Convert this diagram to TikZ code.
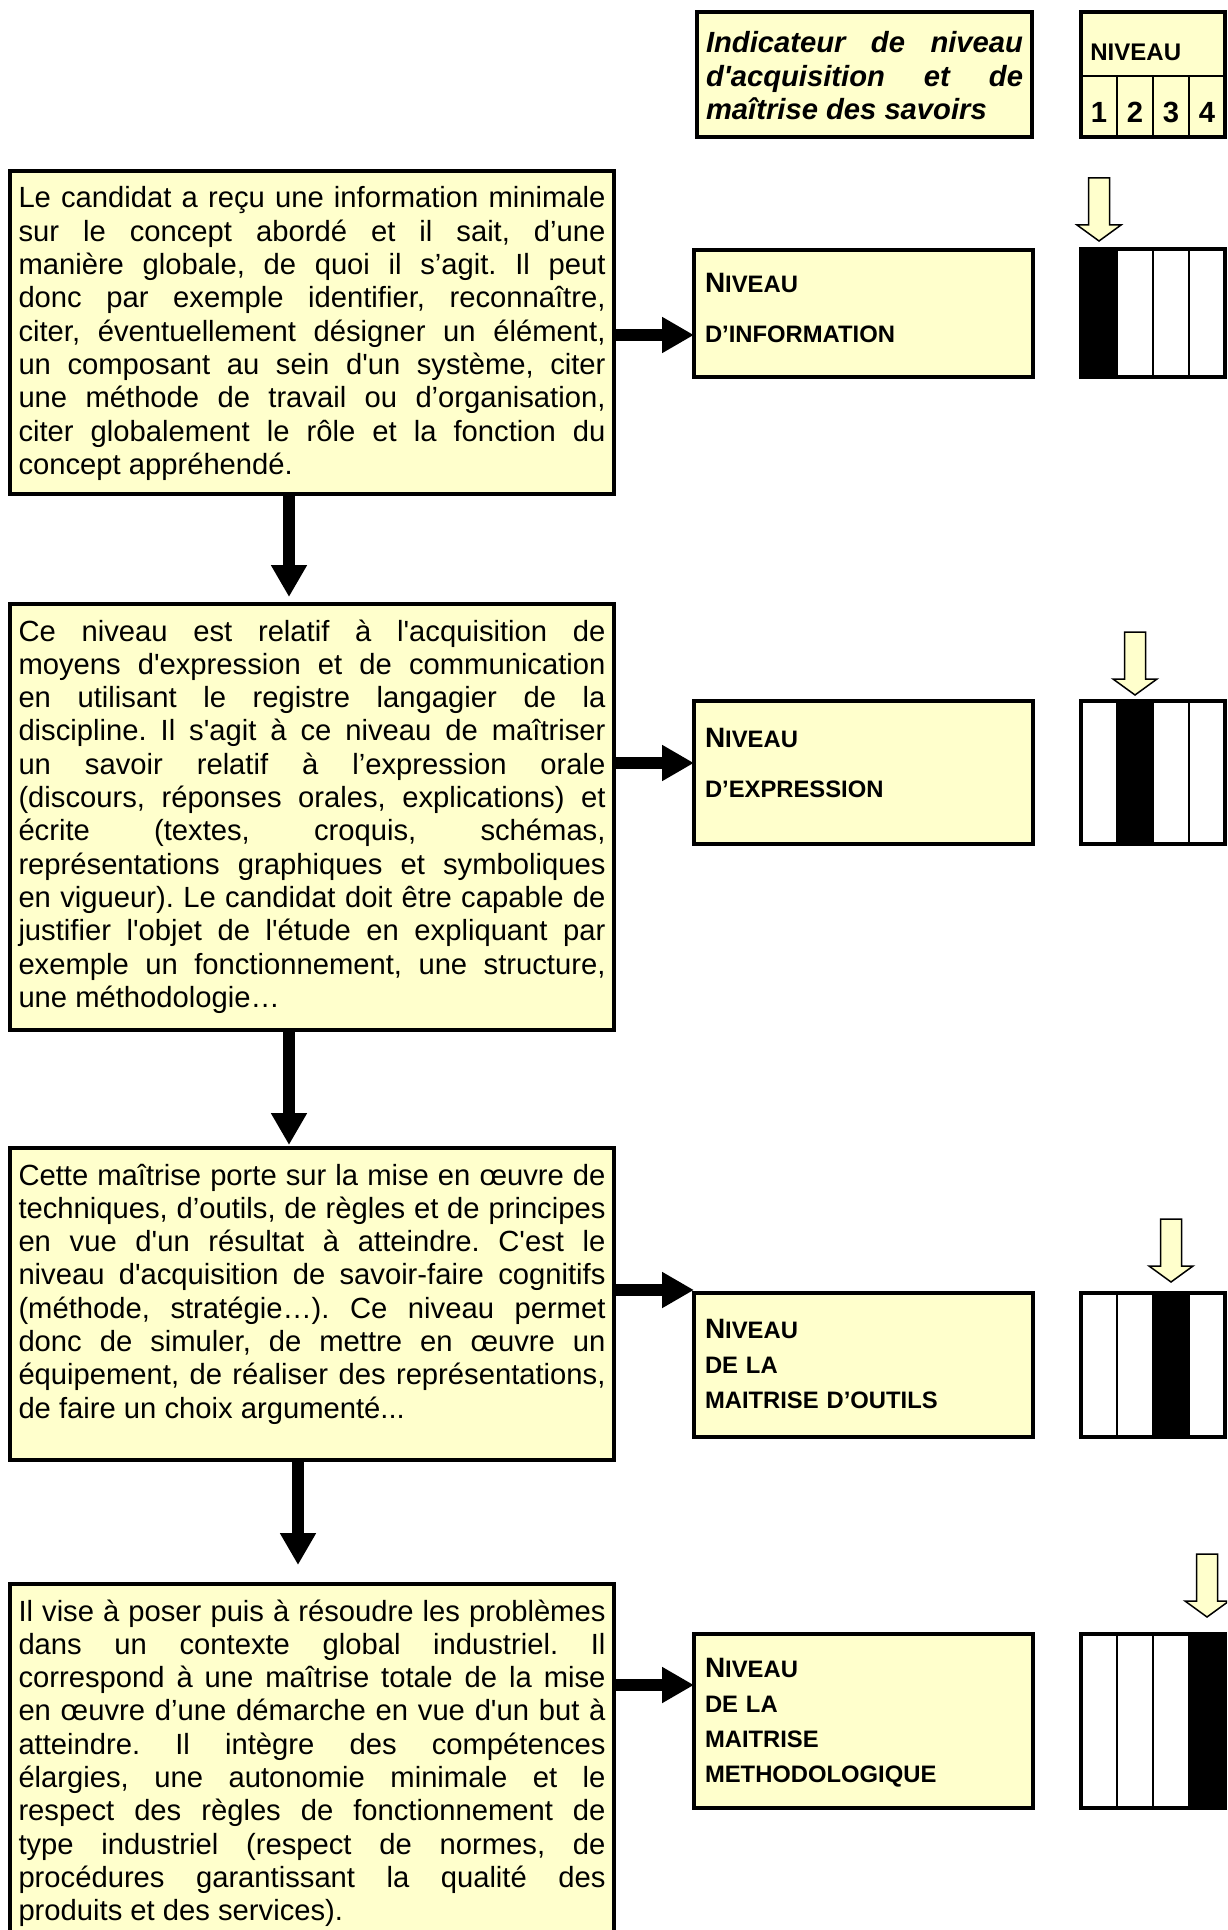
\documentclass[tikz,border=0pt]{standalone}
\usepackage{fontspec}
\setmainfont{Liberation Sans}[Ligatures=TeXOff]
\usetikzlibrary{arrows.meta}
\definecolor{paleyellow}{RGB}{255,255,204}
\tolerance=10000
\hyphenpenalty=10000
\exhyphenpenalty=10000
\frenchspacing

\newcommand{\padtop}[1]{\rule{0pt}{#1}}
\newcommand{\padbot}[1]{\rule[-#1]{0pt}{#1}}
\newcommand{\niv}{{\fontsize{14pt}{17.5pt}\selectfont N}IVEAU}
\newcommand{\levelbar}[3]{%
    \fill[white] (1081,#1) rectangle (1225,#2);
    \fill ({1045+36*#3},#1) rectangle ({1081+36*#3},#2);
    \foreach \xc in {1117,1153,1189}
        \draw[line width=1pt] (\xc,#1) -- (\xc,#2);
    \draw[line width=2pt] (1081,#1) rectangle (1225,#2);
}

\tikzset{
    descbox/.style={draw, line width=2pt, fill=paleyellow, anchor=north west,
        outer sep=0pt, inner xsep=4.25pt, inner ysep=0pt, text width=293.5pt,
        align=justify, font=\fontsize{14.6pt}{16.65pt}\selectfont},
    lvlbox/.style={draw, line width=2pt, fill=paleyellow, anchor=north west,
        outer sep=0pt, inner xsep=5.5pt, inner ysep=0pt, text width=158.5pt,
        align=left, font=\bfseries\fontsize{11.9pt}{17.5pt}\selectfont},
    flow/.style={line width=6pt, -{Triangle[width=17pt,length=16pt]}},
    pointer/.pic={\draw[fill=paleyellow, line width=0.75pt]
        (0,0) -- (-22,-16) -- (-10.5,-16) -- (-10.5,-63) -- (10.5,-63)
        -- (10.5,-16) -- (22,-16) -- cycle;}
}

\begin{document}
\begin{tikzpicture}[x=0.5pt, y=-0.5pt]
    \useasboundingbox (0,0) rectangle (1227,1930);
    \clip (0,0) rectangle (1227,1930);

    \node[descbox, inner xsep=4.5pt, text width=158.5pt, font=\bfseries\itshape\fontsize{14.6pt}{16.65pt}\selectfont] (ind) at (697,12.5)
        {\padtop{20.25pt}Indicateur de niveau\linebreak
        d'acquisition et de\linebreak
        maîtrise des savoirs\padbot{8.7pt}};

    \node[draw, line width=2pt, fill=paleyellow, anchor=north west, outer sep=0pt, inner sep=0pt,
        minimum width=72pt, minimum height=62.25pt] (niv) at (1081,12.5) {};
    \draw[line width=0.75pt] (1081,76) -- (1225,76);
    \foreach \xc in {1117,1153,1189}
        \draw[line width=0.75pt] (\xc,76) -- (\xc,137);
    \node[anchor=base west, inner sep=0pt, font=\bfseries\fontsize{12pt}{14pt}\selectfont] (nivlab) at (1090,61) {NIVEAU};
    \foreach \n/\xc in {1/1099,2/1135,3/1171,4/1207}
        \node[anchor=base, inner sep=0pt, font=\bfseries\fontsize{14.6pt}{16pt}\selectfont] (num\n) at (\xc,123) {\n};

    \node[descbox] (txt1) at (10,171)
        {\padtop{18.5pt}Le candidat a reçu une information minimale\linebreak
        sur le concept abordé et il sait, d’une\linebreak
        manière globale, de quoi il s’agit. Il peut\linebreak
        donc par exemple identifier, reconnaître,\linebreak
        citer, éventuellement désigner un élément,\linebreak
        un composant au sein d'un système, citer\linebreak
        une méthode de travail ou d’organisation,\linebreak
        citer globalement le rôle et la fonction du\linebreak
        concept appréhendé.\padbot{9.8pt}};
    \node[lvlbox] (lvl1) at (694,250) {\padtop{21.5pt}\niv\\[7.5pt]D’INFORMATION\padbot{17pt}};
    \levelbar{249}{377}{1}
    \pic at (1099,241) {pointer};

    \node[descbox] (txt2) at (10,604)
        {\padtop{18.5pt}Ce niveau est relatif à l'acquisition de\linebreak
        moyens d'expression et de communication\linebreak
        en utilisant le registre langagier de la\linebreak
        discipline. Il s'agit à ce niveau de maîtriser\linebreak
        un savoir relatif à l’expression orale\linebreak
        (discours, réponses orales, explications) et\linebreak
        écrite (textes, croquis, schémas,\linebreak
        représentations graphiques et symboliques\linebreak
        en vigueur). Le candidat doit être capable de\linebreak
        justifier l'objet de l'étude en expliquant par\linebreak
        exemple un fonctionnement, une structure,\linebreak
        une méthodologie…\padbot{11.35pt}};
    \node[lvlbox] (lvl2) at (694,701) {\padtop{23pt}\niv\\[7.5pt]D’EXPRESSION\padbot{23.5pt}};
    \levelbar{701}{844}{2}
    \pic at (1135,695) {pointer};

    \node[descbox] (txt3) at (10,1148)
        {\padtop{18.5pt}Cette maîtrise porte sur la mise en œuvre de\linebreak
        techniques, d’outils, de règles et de principes\linebreak
        en vue d'un résultat à atteindre. C'est le\linebreak
        niveau d'acquisition de savoir-faire cognitifs\linebreak
        (méthode, stratégie…). Ce niveau permet\linebreak
        donc de simuler, de mettre en œuvre un\linebreak
        équipement, de réaliser des représentations,\linebreak
        de faire un choix argumenté...\padbot{20.95pt}};
    \node[lvlbox] (lvl3) at (694,1293) {\padtop{22.5pt}\niv\\DE LA\\MAITRISE D’OUTILS\padbot{14.5pt}};
    \levelbar{1293}{1437}{3}
    \pic at (1171,1282) {pointer};

    \node[descbox] (txt4) at (10,1584)
        {\padtop{18.5pt}Il vise à poser puis à résoudre les problèmes\linebreak
        dans un contexte global industriel. Il\linebreak
        correspond à une maîtrise totale de la mise\linebreak
        en œuvre d’une démarche en vue d'un but à\linebreak
        atteindre. Il intègre des compétences\linebreak
        élargies, une autonomie minimale et le\linebreak
        respect des règles de fonctionnement de\linebreak
        type industriel (respect de normes, de\linebreak
        procédures garantissant la qualité des\linebreak
        produits et des services).\padbot{12pt}};
    \node[lvlbox] (lvl4) at (694,1634) {\padtop{21.5pt}\niv\\DE LA\\MAITRISE\\METHODOLOGIQUE\padbot{13pt}};
    \levelbar{1634}{1808}{4}
    \pic at (1207,1617) {pointer};

    \coordinate (r1) at (0,335);
    \coordinate (r2) at (0,763);
    \coordinate (r3) at (0,1290);
    \coordinate (r4) at (0,1685);
    \draw[flow] (txt1.east |- r1) -- (lvl1.west |- r1);
    \draw[flow] (txt2.east |- r2) -- (lvl2.west |- r2);
    \draw[flow] (txt3.east |- r3) -- (lvl3.west |- r3);
    \draw[flow] (txt4.east |- r4) -- (lvl4.west |- r4);

    \coordinate (d1) at (289,0);
    \coordinate (d2) at (289,0);
    \coordinate (d3) at (298,0);
    \draw[flow, shorten >=3.5pt] (txt1.south -| d1) -- (txt2.north -| d1);
    \draw[flow, shorten >=1.5pt] (txt2.south -| d2) -- (txt3.north -| d2);
    \draw[flow, shorten >=9.5pt] (txt3.south -| d3) -- (txt4.north -| d3);
\end{tikzpicture}
\end{document}
